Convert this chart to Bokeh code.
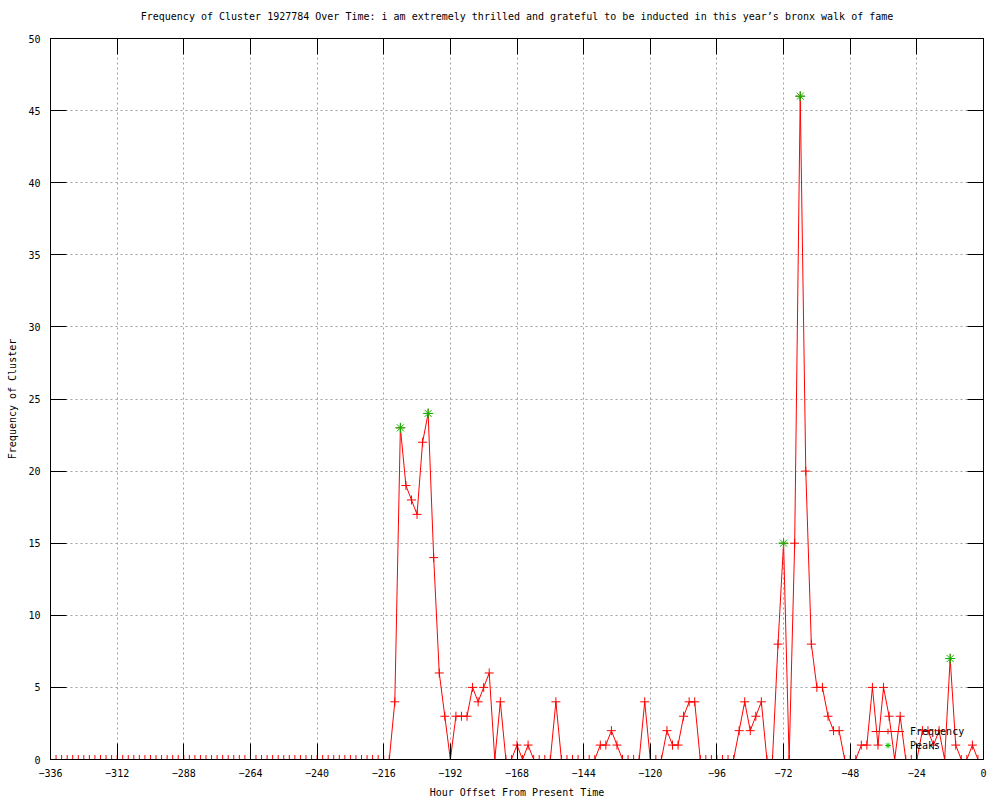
from bokeh.plotting import figure
from bokeh.models import (Range1d, LinearAxis, FixedTicker, Legend, LegendItem,
                          ColumnDataSource, CustomLabelingPolicy)
from bokeh.embed import file_html
from bokeh.resources import INLINE

# ---------------- data ----------------
hours = list(range(-336, 1, 2))
freq = [
    0, 0, 0, 0, 0, 0, 0, 0, 0, 0,
    0, 0, 0, 0, 0, 0, 0, 0, 0, 0,
    0, 0, 0, 0, 0, 0, 0, 0, 0, 0,
    0, 0, 0, 0, 0, 0, 0, 0, 0, 0,
    0, 0, 0, 0, 0, 0, 0, 0, 0, 0,
    0, 0, 0, 0, 0, 0, 0, 0, 0, 0,
    0, 0,
    4, 23, 19, 18, 17, 22, 24, 14, 6, 3,
    0, 3, 3, 3, 5, 4, 5, 6, 0, 4,
    0, 0, 1, 0, 1, 0, 0, 0, 0, 4,
    0, 0, 0, 0, 0, 0, 0, 1, 1, 2,
    1, 0, 0, 0, 0, 4, 0, 0, 0, 2,
    1, 1, 3, 4, 4, 0, 0, 0, 0, 0,
    0, 0, 2, 4, 2, 3, 4, 0, 0, 8,
    15, 0, 15, 46, 20, 8, 5, 5, 3, 2,
    2, 0, 0, 0, 1, 1, 5, 1, 5, 3,
    0, 3, 0, 0, 0, 2, 2, 1, 2, 0,
    7, 1, 0, 0, 1, 0, 0,
]
peak_hours = [-210, -200, -72, -66, -12]
peak_vals = [23, 24, 15, 46, 7]

x_ticks = [-336, -312, -288, -264, -240, -216, -192, -168, -144, -120, -96, -72, -48, -24, 0]
y_ticks = [0, 5, 10, 15, 20, 25, 30, 35, 40, 45, 50]

title_text = ("Frequency of Cluster 1927784 Over Time: i am extremely thrilled and grateful "
              "to be inducted in this year\u2019s bronx walk of fame")
x_label = "Hour Offset From Present Time"
y_label = "Frequency of Cluster"

FONT = "DejaVu Sans Mono"
FS = "10px"

# ---------------- figure ----------------
p = figure(
    frame_width=933, frame_height=721,
    x_range=Range1d(-336, 0), y_range=Range1d(0, 50),
    output_backend="svg", toolbar_location=None,
    min_border_left=50, min_border_right=9, min_border_top=38, min_border_bottom=36,
    x_axis_location=None, y_axis_location=None,
    background_fill_color="white", border_fill_color="white",
)
p.outline_line_color = "black"
p.outline_line_width = 1
p.outline_line_alpha = 1

p.title.text = title_text
p.title.align = "center"
p.title.text_font = FONT
p.title.text_font_size = FS
p.title.text_font_style = "normal"
p.title.text_color = "black"
p.title.standoff = 12

no_labels = CustomLabelingPolicy(code="return new Set()")


def style_axis(ax, show_labels):
    ax.axis_line_color = "black"
    ax.major_tick_in = 16
    ax.major_tick_out = 0
    ax.minor_tick_in = 0
    ax.minor_tick_out = 0
    ax.major_tick_line_color = "black"
    if show_labels:
        ax.major_label_text_font = FONT
        ax.major_label_text_font_size = FS
        ax.major_label_text_color = "black"
        ax.axis_label_text_font = FONT
        ax.axis_label_text_font_size = FS
        ax.axis_label_text_font_style = "normal"
        ax.axis_label_text_color = "black"
    else:
        ax.major_label_policy = no_labels
        ax.major_label_standoff = 0


xb = LinearAxis(ticker=FixedTicker(ticks=x_ticks), axis_label=x_label)
style_axis(xb, True)
xb.major_label_standoff = 9
xb.axis_label_standoff = 7
p.add_layout(xb, "below")

yl = LinearAxis(ticker=FixedTicker(ticks=y_ticks), axis_label=y_label)
style_axis(yl, True)
yl.major_label_standoff = 10
yl.axis_label_standoff = 7
p.add_layout(yl, "left")

xt = LinearAxis(ticker=FixedTicker(ticks=x_ticks))
style_axis(xt, False)
p.add_layout(xt, "above")

yr = LinearAxis(ticker=FixedTicker(ticks=y_ticks))
style_axis(yr, False)
p.add_layout(yr, "right")

p.xgrid.ticker = FixedTicker(ticks=x_ticks)
p.ygrid.ticker = FixedTicker(ticks=y_ticks)
for g in (p.xgrid, p.ygrid):
    g.grid_line_color = "#a0a0a0"
    g.grid_line_dash = "2 3"
    g.grid_line_width = 1

src = ColumnDataSource(data=dict(x=hours, y=freq))
psrc = ColumnDataSource(data=dict(x=peak_hours, y=peak_vals))

r_line = p.line("x", "y", source=src, line_color="#ff0000", line_width=1)
r_pts = p.scatter("x", "y", source=src, marker="cross", size=9,
                  line_color="#ff0000", line_width=1)
r_peak = p.scatter("x", "y", source=psrc, marker="asterisk", size=10,
                   line_color="#00c000", line_width=1)

legend = Legend(
    items=[LegendItem(label="Frequency", renderers=[r_line, r_pts]),
           LegendItem(label="Peaks", renderers=[r_peak])],
    location=(821, 7),
    background_fill_alpha=0, border_line_alpha=0,
    label_text_font=FONT, label_text_font_size=FS, label_text_color="black",
    glyph_width=33, glyph_height=14, label_height=14,
    label_standoff=6, spacing=0, padding=0, margin=0,
)
p.add_layout(legend, "center")

open("out.html", "w").write(file_html(p, INLINE))
